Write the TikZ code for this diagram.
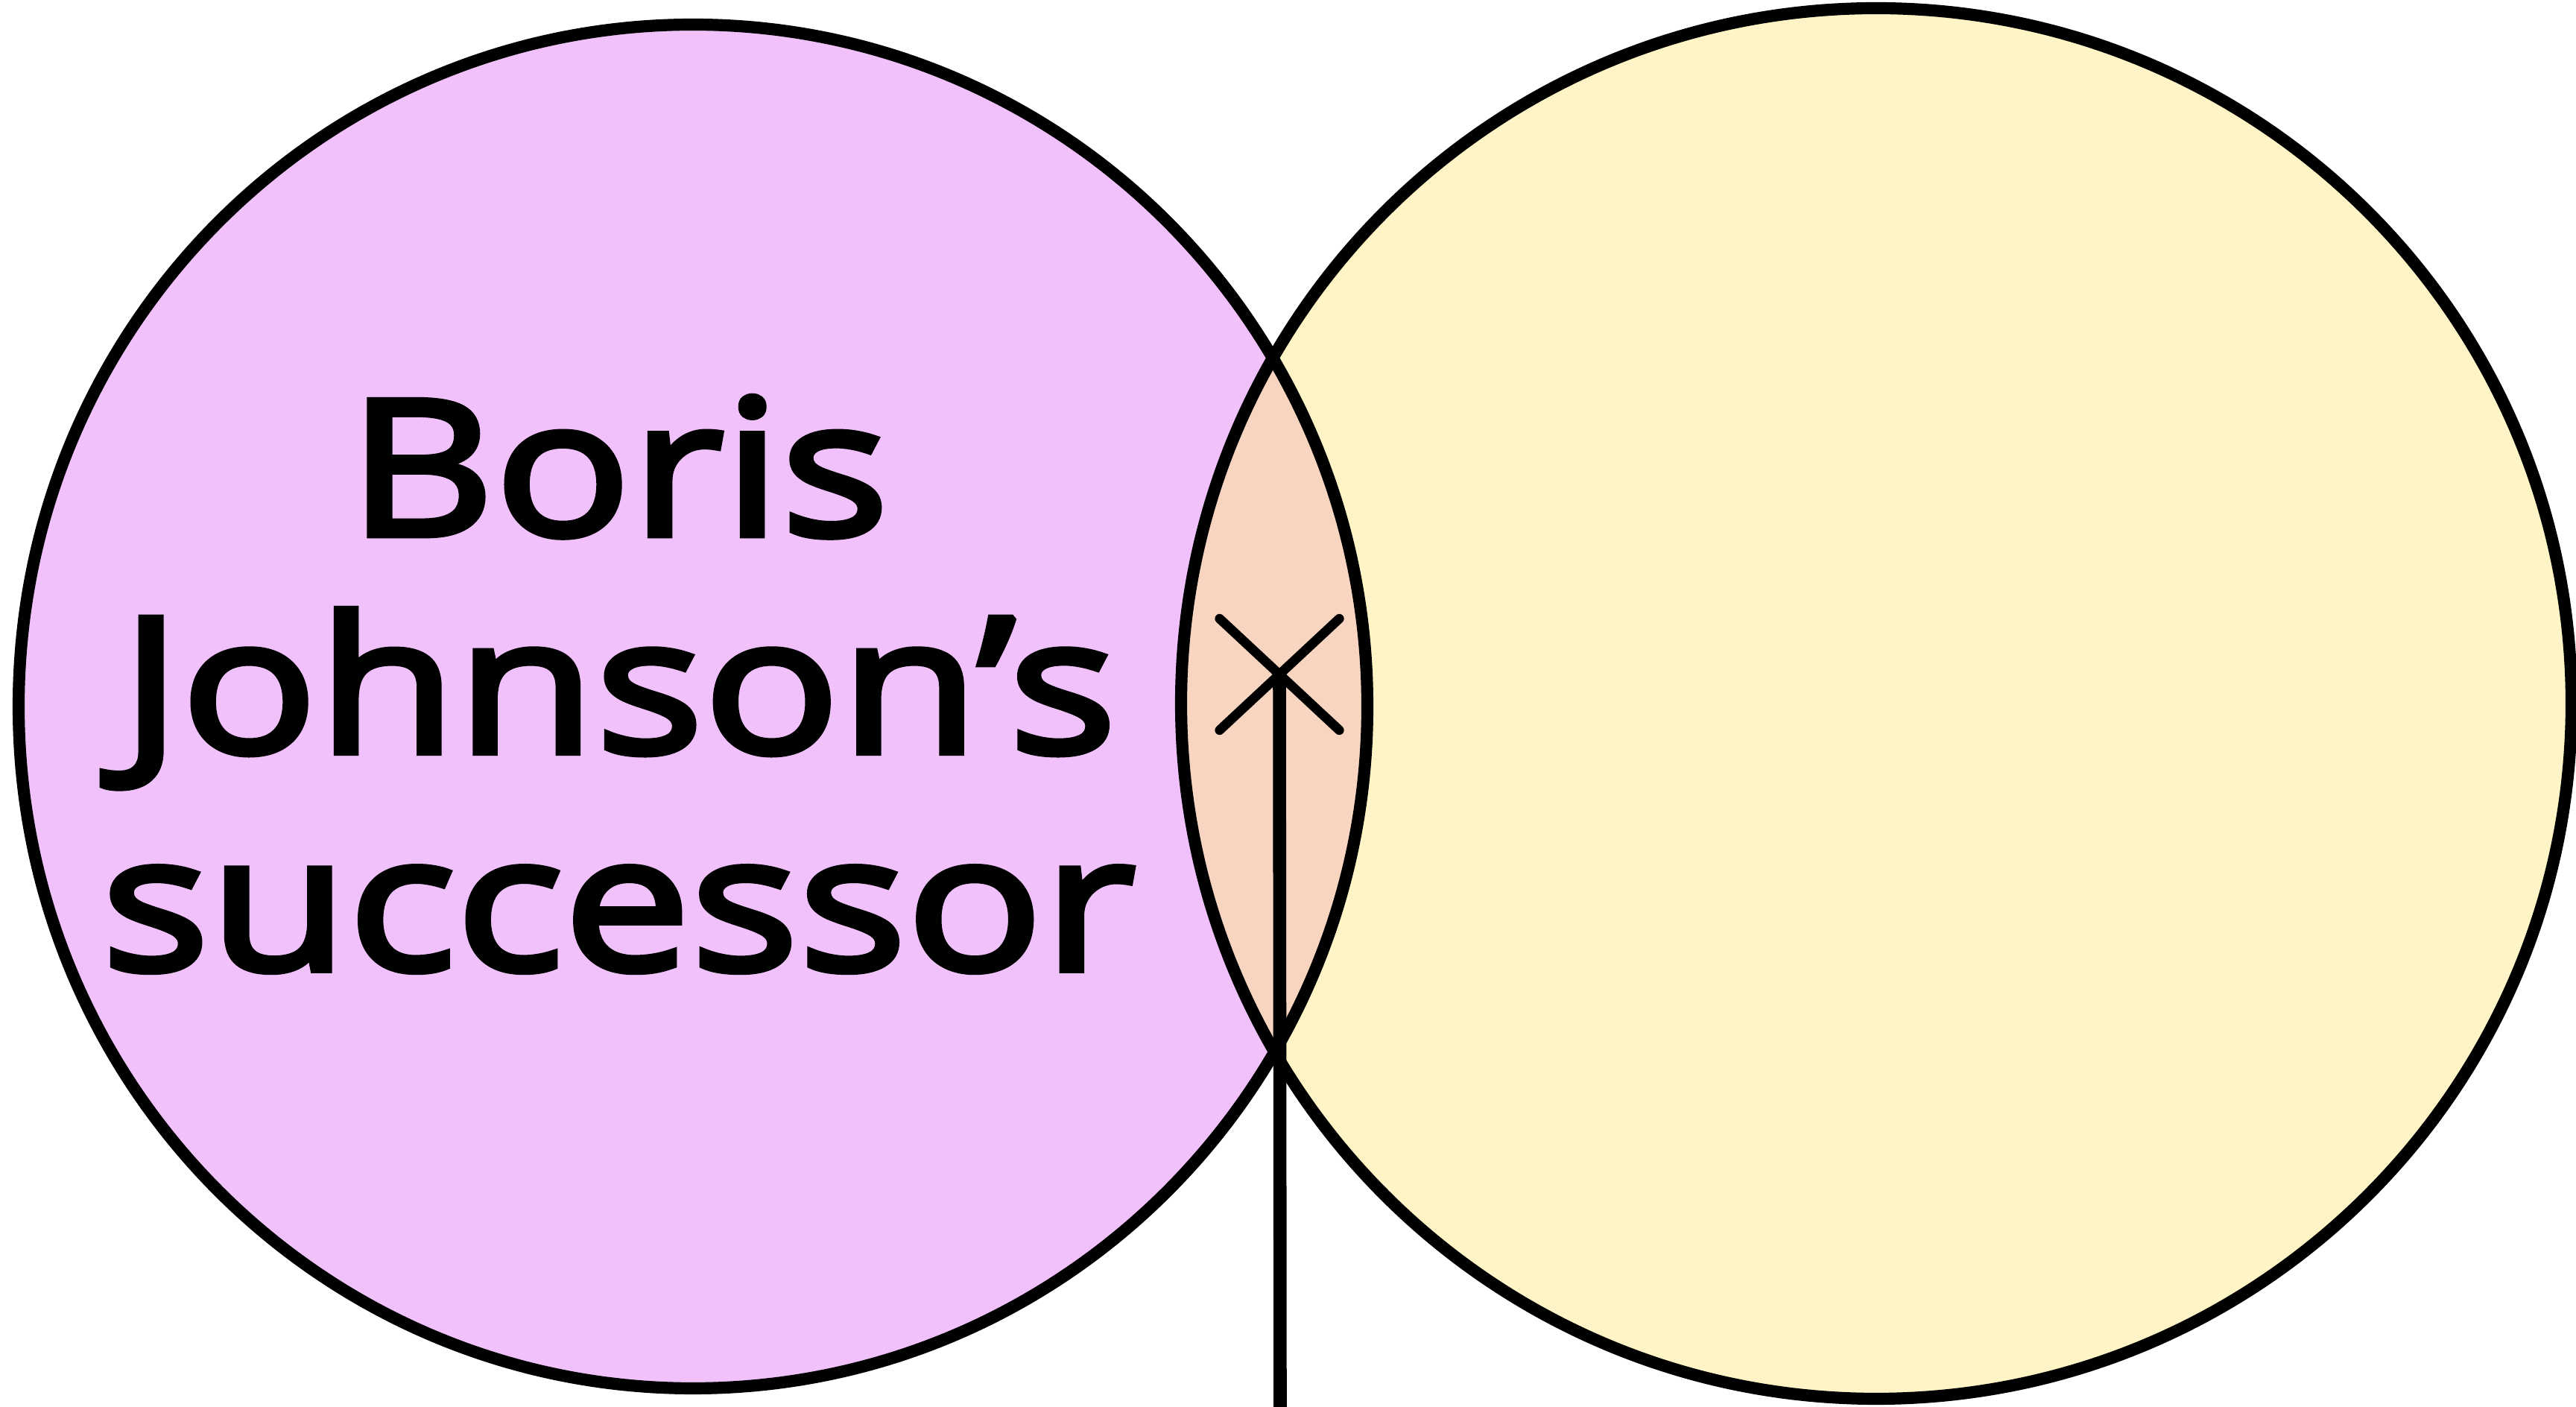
\documentclass[tikz,border=0pt]{standalone}
\usepackage{fontspec}
\setmainfont{Open Sans}[FakeStretch=1.2, FakeBold=3.5]
\usetikzlibrary{shapes.misc}

\definecolor{pinkset}{RGB}{240,193,250}
\definecolor{yellowset}{RGB}{255,244,198}
\definecolor{lensset}{RGB}{247,213,192}

\begin{document}
\begin{tikzpicture}[
    outline/.style={draw=black, line width=4.6pt},
    crossmark/.style={draw, cross out, line width=3.6pt, minimum width=14.8mm, minimum height=13.7mm, line cap=round},
    pointer/.style={line width=5pt},
    setlabel/.style={align=center, font=\fontsize{72}{83}\selectfont}
]
\useasboundingbox (0,0) rectangle (34.57,18.88);

% Set centres
\coordinate (L) at (9.30,9.40);
\coordinate (R) at (25.18,9.44);

% Fills
\fill[pinkset] (L) ellipse [x radius=9.05, y radius=9.15];
\fill[yellowset] (R) circle [radius=9.33];
\begin{scope}
    \clip (L) ellipse [x radius=9.05, y radius=9.15];
    \fill[lensset] (R) circle [radius=9.33];
\end{scope}

% Outlines
\draw[outline] (L) ellipse [x radius=9.05, y radius=9.15];
\draw[outline] (R) circle [radius=9.33];

% Label
\node[setlabel] (boris) at (8.30,9.70) {Boris\\Johnson’s\\successor};

% Cross and pointer
\node[crossmark] (x) at (17.17,9.83) {};
\coordinate (foot) at (17.18,0);
\draw[pointer] (x.center) -- (foot);

\end{tikzpicture}
\end{document}
